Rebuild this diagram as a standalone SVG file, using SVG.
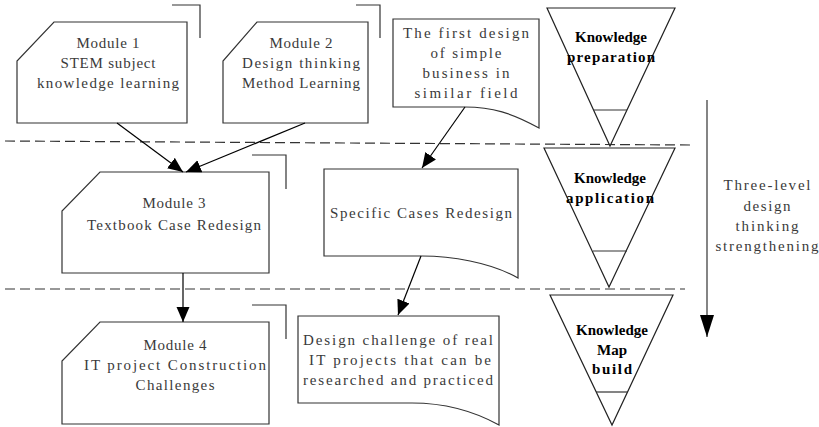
<svg xmlns="http://www.w3.org/2000/svg" width="819" height="427" viewBox="0 0 819 427">
<style>
.box{fill:#fff;stroke:#333;stroke-width:1.2}
.brk{fill:none;stroke:#333;stroke-width:1.2}
.t{font-family:"Liberation Serif","Times New Roman",serif;font-size:15px;fill:#3a3a3a;text-anchor:middle}
.b{font-family:"Liberation Serif","Times New Roman",serif;font-size:15px;font-weight:bold;fill:#000;text-anchor:middle}
.dash{stroke:#333;stroke-width:1.2;stroke-dasharray:10 5;fill:none}
.con{stroke:#000;stroke-width:1.2;fill:none;marker-end:url(#ah)}
.tri{fill:#fff;stroke:#222;stroke-width:1.2}
</style>
<defs>
<marker id="ah" markerUnits="userSpaceOnUse" markerWidth="16" markerHeight="14" refX="15" refY="6.5" orient="auto">
<path d="M0,0 L15,6.5 L0,13 Z" fill="#000"/>
</marker>
<marker id="ahBig" markerUnits="userSpaceOnUse" markerWidth="24" markerHeight="16" refX="22" refY="7" orient="auto">
<path d="M0,0 L22,7 L0,14 Z" fill="#000"/>
</marker>
</defs>
<rect width="819" height="427" fill="#fff"/>
<g id="dividers">
<line class="dash" x1="5" y1="141" x2="690" y2="145"/>
<line class="dash" x1="5" y1="289" x2="685" y2="289"/>
</g>
<g id="module1">
<polyline class="brk" points="172,5 200,5 200,38"/>
<polygon class="box" points="54,22 187,22 187,123 17,123 17,61"/>
<text class="t" x="108" y="48" textLength="63">Module 1</text>
<text class="t" x="108" y="68" textLength="95">STEM subject</text>
<text class="t" x="108" y="88" textLength="142">knowledge learning</text>
</g>
<g id="module2">
<polyline class="brk" points="356,5 380,5 380,38"/>
<polygon class="box" points="257,22 368,22 368,123 223,123 223,61"/>
<text class="t" x="301" y="48" textLength="63">Module 2</text>
<text class="t" x="301" y="68" textLength="118">Design thinking</text>
<text class="t" x="301" y="88" textLength="118">Method Learning</text>
</g>
<g id="firstDesign">
<path class="box" d="M393,19 H539 V128 C512,113 492,107 465,107 H393 Z"/>
<text class="t" x="466" y="38" textLength="126">The first design</text>
<text class="t" x="466" y="58" textLength="71">of simple</text>
<text class="t" x="466" y="78" textLength="87">business in</text>
<text class="t" x="466" y="98" textLength="103">similar field</text>
</g>
<g id="module3">
<polyline class="brk" points="252,155 286,155 286,189"/>
<polygon class="box" points="100,172 269,172 269,273 62,273 62,211"/>
<text class="t" x="174" y="208" textLength="63">Module 3</text>
<text class="t" x="174" y="230" textLength="174">Textbook Case Redesign</text>
</g>
<g id="specificCases">
<path class="box" d="M324,169 H518 V278 C490,262 450,256 422,256 H324 Z"/>
<text class="t" x="421" y="218" textLength="182">Specific Cases Redesign</text>
</g>
<g id="module4">
<polyline class="brk" points="252,305 286,305 286,339"/>
<polygon class="box" points="100,322 269,322 269,424 62,424 62,361"/>
<text class="t" x="175" y="350" textLength="63">Module 4</text>
<text class="t" x="175" y="370" textLength="182">IT project Construction</text>
<text class="t" x="175" y="390" textLength="79">Challenges</text>
</g>
<g id="designChallenge">
<path class="box" d="M298,316 H499 V425 C470,409 440,403 412,403 H298 Z"/>
<text class="t" x="398" y="345" textLength="190">Design challenge of real</text>
<text class="t" x="400" y="365" textLength="182">IT projects that can be</text>
<text class="t" x="398" y="385" textLength="190">researched and practiced</text>
</g>
<g id="knowledgePreparation">
<polygon class="tri" points="547,8 675,8 610,146"/>
<line class="brk" x1="594" y1="110" x2="627" y2="110"/>
<text class="b" x="611" y="42" textLength="72">Knowledge</text>
<text class="b" x="611" y="62" textLength="88">preparation</text>
</g>
<g id="knowledgeApplication">
<polygon class="tri" points="544,148 675,148 609,287"/>
<line class="brk" x1="593" y1="251" x2="627" y2="251"/>
<text class="b" x="610" y="183" textLength="72">Knowledge</text>
<text class="b" x="610" y="203" textLength="88">application</text>
</g>
<g id="knowledgeMap">
<polygon class="tri" points="550,295 673,295 612,425"/>
<line class="brk" x1="596" y1="392" x2="628" y2="392"/>
<text class="b" x="612" y="335" textLength="72">Knowledge</text>
<text class="b" x="612" y="355">Map</text>
<text class="b" x="612" y="374" textLength="40">build</text>
</g>
<g id="strengthening">
<text class="t" x="767" y="190" textLength="87">Three-level</text>
<text class="t" x="767" y="211" textLength="47">design</text>
<text class="t" x="767" y="231" textLength="63">thinking</text>
<text class="t" x="767" y="251" textLength="103">strengthening</text>
</g>
<g id="connectors">
<line class="con" x1="117" y1="123" x2="183" y2="172"/>
<line class="con" x1="305" y1="123" x2="186" y2="172"/>
<line class="con" x1="465" y1="107" x2="422" y2="168"/>
<line class="con" x1="183" y1="273" x2="183" y2="322"/>
<line class="con" x1="421" y1="256" x2="398" y2="315"/>
<line stroke="#333" stroke-width="1.2" x1="707" y1="100" x2="707" y2="337" marker-end="url(#ahBig)"/>
</g>
</svg>
